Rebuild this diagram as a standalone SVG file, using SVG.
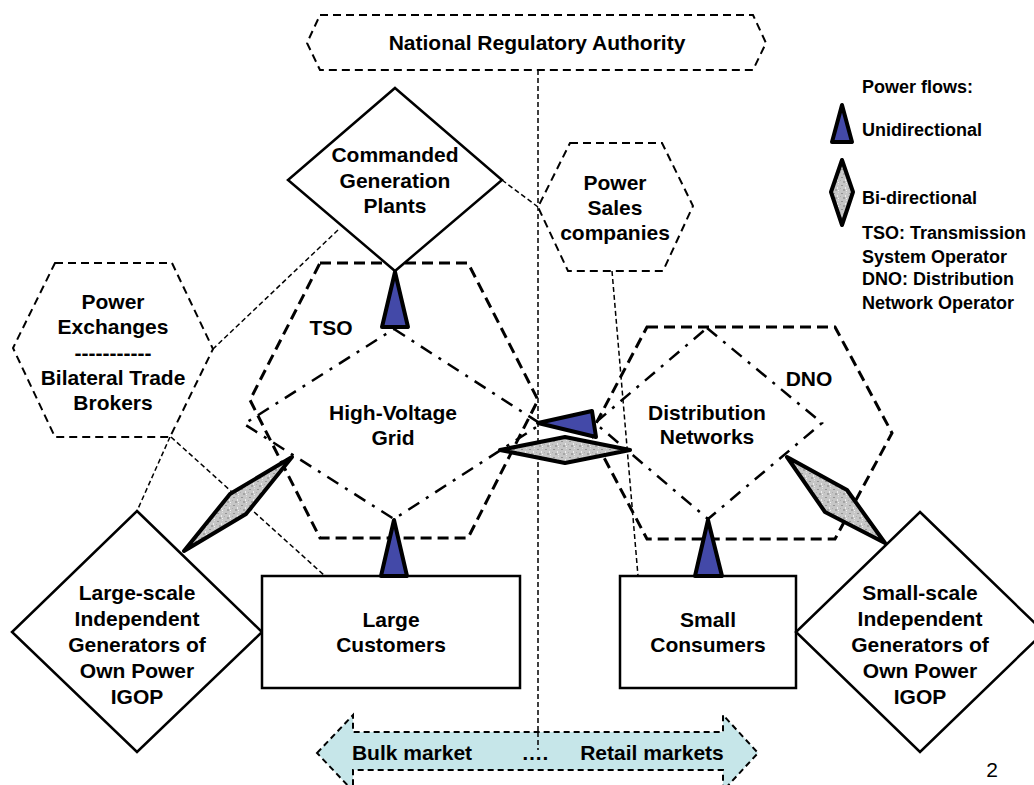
<svg xmlns="http://www.w3.org/2000/svg" width="1034" height="785" viewBox="0 0 1034 785">
<defs>
<pattern id="tex" width="8" height="8" patternUnits="userSpaceOnUse">
<rect width="8" height="8" fill="#c6c6c6"/>
<rect x="1" y="1" width="2" height="1" fill="#949494"/>
<rect x="5" y="3" width="1" height="2" fill="#ececec"/>
<rect x="3" y="5" width="2" height="2" fill="#a4a4a4"/>
<rect x="6" y="6" width="1" height="1" fill="#f2f2f2"/>
<rect x="0" y="4" width="1" height="1" fill="#adadad"/>
<rect x="6" y="0" width="1" height="1" fill="#dedede"/>
</pattern>
<style>
text{font-family:"Liberation Sans",Arial,sans-serif;font-weight:bold;fill:#000;text-anchor:middle}
.n{font-size:21px}
.lg{font-size:18px;text-anchor:start}
.solid{fill:#fff;stroke:#000;stroke-width:2.5}
.hex{fill:#fff;stroke:#000;stroke-width:2;stroke-dasharray:8 5}
.zone{fill:none;stroke:#000;stroke-width:3;stroke-dasharray:11 6}
.dd{fill:none;stroke:#000;stroke-width:2.5;stroke-dasharray:13 8 3 8}
.thin{fill:none;stroke:#000;stroke-width:1.5;stroke-dasharray:5 3}
.uni{fill:#4349a8;stroke:#000;stroke-width:4;stroke-linejoin:round}
.bi{fill:url(#tex);stroke:#000;stroke-width:4;stroke-linejoin:round}
</style>
</defs>
<rect width="1034" height="785" fill="#fff"/>

<g id="zones">
<polygon id="tso-zone" class="zone" points="320,263 468,263 538,400 468,538 320,538 250,400"/>
<polygon id="dno-zone" class="zone" points="647,327 835,327 892,433 835,539 647,539 591,433"/>
</g>

<g id="connectors">
<line class="thin" x1="538" y1="70" x2="538" y2="750"/>
<line class="thin" x1="502" y1="180" x2="538" y2="207"/>
<line class="thin" x1="338" y1="230" x2="213" y2="349"/>
<line class="thin" x1="170" y1="437" x2="137" y2="511"/>
<line class="thin" x1="171" y1="437" x2="325" y2="576"/>
<line class="thin" x1="612" y1="271" x2="638" y2="576"/>
</g>

<g id="hv-grid">
<polygon class="dd" points="394,329 541,424 394,519 244,424"/>
<text class="n" x="393" y="420">High-Voltage</text>
<text class="n" x="393" y="445">Grid</text>
<text class="n" x="331" y="335">TSO</text>
</g>

<g id="distribution-networks">
<polygon class="dd" points="707,328 822,423 708,519 595,423"/>
<text class="n" x="707" y="420">Distribution</text>
<text class="n" x="707" y="444">Networks</text>
<text class="n" x="809" y="386">DNO</text>
</g>

<g id="nra">
<polygon class="hex" points="320,15 753,15 766,43 753,70 320,70 307,43"/>
<text class="n" x="537" y="50">National Regulatory Authority</text>
</g>

<g id="commanded-generation">
<polygon class="solid" points="395,88 502,180 395,271 288,180"/>
<text class="n" x="395" y="162">Commanded</text>
<text class="n" x="395" y="188">Generation</text>
<text class="n" x="395" y="213">Plants</text>
</g>

<g id="power-sales">
<polygon class="hex" points="570,143 662,143 693,206 663,271 568,271 538,207"/>
<text class="n" x="615" y="190">Power</text>
<text class="n" x="615" y="215">Sales</text>
<text class="n" x="615" y="240">companies</text>
</g>

<g id="power-exchanges">
<polygon class="hex" points="55,263 172,263 213,349 170,437 55,437 13,348"/>
<text class="n" x="113" y="309">Power</text>
<text class="n" x="113" y="334">Exchanges</text>
<text class="n" x="113" y="360">-----------</text>
<text class="n" x="113" y="385">Bilateral Trade</text>
<text class="n" x="113" y="410">Brokers</text>
</g>

<g id="large-igop">
<polygon class="solid" points="137,511 262,632 137,752 12,632"/>
<text class="n" x="137" y="600">Large-scale</text>
<text class="n" x="137" y="626">Independent</text>
<text class="n" x="137" y="652">Generators of</text>
<text class="n" x="137" y="678">Own Power</text>
<text class="n" x="137" y="704">IGOP</text>
</g>

<g id="large-customers">
<rect class="solid" x="262" y="576" width="258" height="112"/>
<text class="n" x="391" y="627">Large</text>
<text class="n" x="391" y="652">Customers</text>
</g>

<g id="small-consumers">
<rect class="solid" x="620" y="576" width="176" height="112"/>
<text class="n" x="708" y="627">Small</text>
<text class="n" x="708" y="652">Consumers</text>
</g>

<g id="small-igop">
<polygon class="solid" points="920,512 1044,632 920,752 796,632"/>
<text class="n" x="920" y="600">Small-scale</text>
<text class="n" x="920" y="626">Independent</text>
<text class="n" x="920" y="652">Generators of</text>
<text class="n" x="920" y="678">Own Power</text>
<text class="n" x="920" y="704">IGOP</text>
</g>

<g id="power-flows">
<polygon class="uni" points="395,272 408,327 382,327"/>
<polygon class="uni" points="394,520 407,576 381,576"/>
<polygon class="uni" points="708,520 722,576 695,576"/>
<polygon class="uni" points="538,423 592,411 596,437"/>
<polygon class="bi" points="500,450 565,437 630,450 565,463"/>
<polygon class="bi" points="292,457 246,514 184,551 230,494"/>
<polygon class="bi" points="787,457 847,490 885,543 825,512"/>
</g>

<g id="markets">
<polygon points="317,753 353,715 353,732 723,732 723,715 758,753 723,791 723,770 353,770 353,791" fill="#c6e6e9" stroke="#000" stroke-width="2" stroke-dasharray="6 4"/>
<line class="thin" x1="538" y1="732" x2="538" y2="750"/>
<text class="n" x="412" y="760">Bulk market</text>
<text class="n" x="535" y="760">….</text>
<text class="n" x="652" y="760">Retail markets</text>
</g>

<g id="legend">
<text class="lg" x="862" y="93">Power flows:</text>
<polygon class="uni" points="842,105 852,142 832,142"/>
<text class="lg" x="862" y="136">Unidirectional</text>
<polygon class="bi" points="842,160 853,192 842,225 831,192"/>
<text class="lg" x="862" y="204">Bi-directional</text>
<text class="lg" x="862" y="239">TSO: Transmission</text>
<text class="lg" x="862" y="263">System Operator</text>
<text class="lg" x="862" y="285">DNO: Distribution</text>
<text class="lg" x="862" y="309">Network Operator</text>
</g>

<text x="992" y="777" style="font-weight:normal;font-size:21px">2</text>
</svg>
